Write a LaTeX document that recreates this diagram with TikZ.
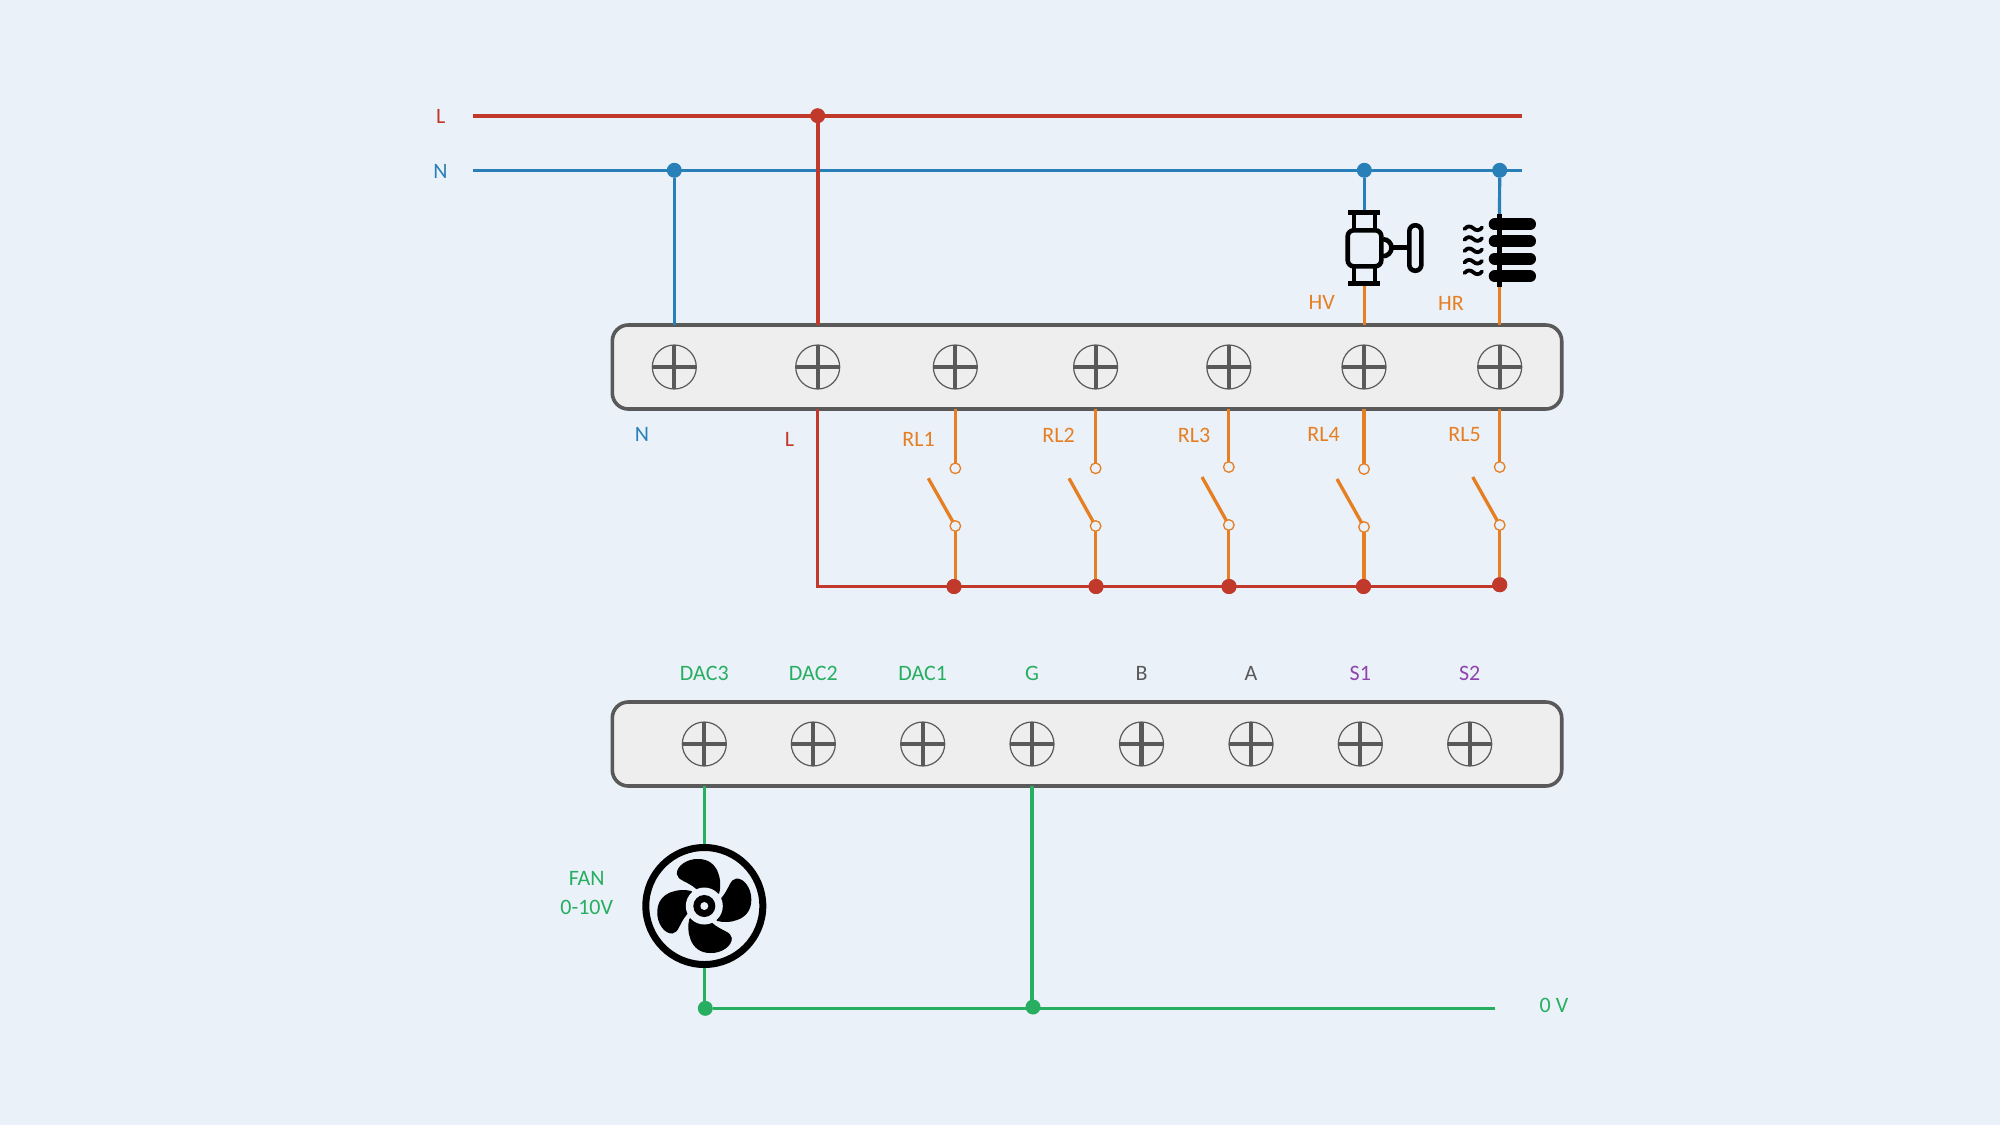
\documentclass[tikz,border=0pt]{standalone}
\usepackage{fontspec}
\setmainfont{Carlito}
\definecolor{bgc}{HTML}{EAF1F9}
\definecolor{redw}{HTML}{C0392B}
\definecolor{bluew}{HTML}{2980B9}
\definecolor{orangew}{HTML}{E67E22}
\definecolor{greenw}{HTML}{27AE60}
\definecolor{purplew}{HTML}{8E44AD}
\definecolor{greyb}{HTML}{595959}
\definecolor{boxf}{HTML}{EEEEEE}
\tikzset{
  terminal/.style={draw=greyb,fill=boxf,line width=1.8pt,rounded corners=8pt,minimum width=474.7pt,minimum height=42pt,inner sep=0,outer sep=0},
  screw/.style={circle,draw=greyb,line width=.6pt,minimum size=22pt,inner sep=0,outer sep=0,
    path picture={\draw[greyb,line width=2.1pt] (path picture bounding box.west) -- (path picture bounding box.east);
                  \draw[greyb,line width=2.1pt] (path picture bounding box.north) -- (path picture bounding box.south);}},
  jdot/.style={circle,inner sep=0,outer sep=0,minimum size=7.5pt,fill=#1},
  contact/.style={circle,draw=orangew,fill=bgc,line width=.65pt,inner sep=0,outer sep=0,minimum size=5.3pt},
  lbl/.style={text=#1,font=\fontsize{11}{13.2}\selectfont,inner sep=0,align=center,yshift=-.4pt},
  wireL/.style={redw,line width=2.1pt},
  wireB/.style={bluew,line width=1.6pt},
  wireLb/.style={redw,line width=1.65pt},
  wireO/.style={orangew,line width=1.65pt},
  wireG/.style={greenw,line width=1.65pt},
  icon/.style={black,line width=2.3pt},
}
\begin{document}
\begin{tikzpicture}[x=.5pt,y=-.5pt]
\useasboundingbox (0,0) rectangle (2000,1125);
\fill[bgc] (0,0) rectangle (2000,1125);

% terminal blocks
\node[terminal] (T1) at (1087,367) {};
\node[terminal] (T2) at (1087,744) {};

% upper screws
\node[screw] (N1) at (674.3,367) {};
\node[screw] (L1) at (817.7,367) {};
\foreach \n/\x in {R1/955.3,R2/1095.6,R3/1228.8,R4/1364,R5/1499.7}{
  \node[screw] (\n) at (\x,367) {};
}
% lower screws
\foreach \n/\x in {D3/704.3,D2/813.3,D1/922.7,G/1032,B/1141.5,A/1251,S1/1360.3,S2/1469.7}{
  \node[screw] (\n) at (\x,744) {};
}

% free ends and junctions
\coordinate (Ls) at (473,115.7);
\coordinate (Le) at (1522,115.7);
\coordinate (Ns) at (473,170.3);
\coordinate (Ne) at (1522,170.3);
\coordinate (Bs) at (816,586.5);
\coordinate (Ge) at (1495,1008);

% main L / N
\draw[wireL] (Ls) -- (Le);
\draw[wireB] (Ns) -- (Ne);
\node[jdot=redw] (jL) at (817.7,115.7) {};
\node[jdot=bluew] (jN) at (674.3,170.3) {};
\node[jdot=bluew] (jV) at (1364.3,170.3) {};
\node[jdot=bluew] (jH) at (1499.7,170.3) {};

\draw[wireB] (jN) -- (jN |- T1.north);
\draw[wireL] (jL) -- (jL |- T1.north);

% valve
\coordinate (vT) at (1364.3,210);
\coordinate (vB) at (1364.3,285);
\draw[wireB] (jV) -- (vT);
\draw[wireO] (vB) -- (vB |- T1.north);
\begin{scope}[icon]
  \draw[line width=2.4pt] (1348.3,212.3) -- (1380,212.3);
  \draw[line width=2.4pt] (1348.3,283.3) -- (1380,283.3);
  \draw (1354,212) -- (1354,230) (1375,212) -- (1375,230);
  \draw (1354,266) -- (1354,283) (1375,266) -- (1375,283);
  \draw[rounded corners=3pt] (1347.7,230.3) rectangle (1381.3,266.3);
  \draw (1383,239.2) arc[start angle=-90,end angle=90,radius=8.5];
  \draw (1392,247.7) -- (1409,247.7);
  \draw[rounded corners=2.9pt] (1409.3,225.3) rectangle (1421.3,270.7);
\end{scope}

% heater
\coordinate (hT) at (1499.5,214);
\coordinate (hB) at (1499.5,287);
\draw[wireB] (jH) -- (hT);
\draw[wireO] (hB) -- (hB |- T1.north);
\draw[black,line width=2.2pt] (hT) -- (hB);
\foreach \y in {224.3,241.3,258.7,276.3}{
  \draw[black,line width=6pt,line cap=round] (1494.7,\y) -- (1530,\y);
}
\foreach \y in {228.3,239,250.3,261.7,272.3}{
  \draw[black,line width=1.9pt,line cap=round] (1464.5,\y+.8)
     .. controls (1467,\y-2.6) and (1470.5,\y-2.6) .. (1473.3,\y)
     .. controls (1476,\y+2.6) and (1479.5,\y+2.6) .. (1482,\y-.8);
}

% relay bus
\node[jdot=redw] (b1) at (954,586.5) {};
\node[jdot=redw] (b2) at (1096,586.5) {};
\node[jdot=redw] (b3) at (1229,586.5) {};
\node[jdot=redw] (b4) at (1363.5,586.5) {};
\node[jdot=redw] (b5) at (1499.7,584.7) {};

% relay switches
\foreach \n/\y/\z/\lx/\ly in {1/468.3/526/928.3/478.3,2/468.3/526/1069/478.3,3/467/525/1202/477,4/469/527/1337/479,5/467/525/1472.7/477}{
  \node[contact] (ct\n) at (R\n |- 0,\y) {};
  \node[contact] (cb\n) at (R\n |- 0,\z) {};
  \coordinate (lv\n) at (\lx,\ly);
  \draw[wireO] (R\n |- T1.south) -- (ct\n);
  \draw[wireO] (lv\n) -- (cb\n);
  \draw[wireO] (cb\n) -- (R\n |- b\n.north);
}
\draw[wireLb] (L1 |- T1.south) -- (L1 |- Bs);
\draw[wireLb] (Bs) -- (b5 |- Bs);
\foreach \n in {1,2,3,4,5}{
  \node[jdot=redw] at (b\n) {};
}

% fan
\node[circle,draw=black,fill=bgc,line width=3.5pt,minimum size=117pt/2,inner sep=0,outer sep=1.75pt] (fan) at (704.3,906) {};
\foreach \a in {0,90,180,270}{
  \fill[black,rotate around={\a:(fan.center)}]
    (719.3,893) .. controls (722.3,882) and (719.3,859) .. (698.3,859)
    .. controls (687.3,858.5) and (676.3,866) .. (676.8,874)
    .. controls (677.3,880.5) and (687.3,881) .. (696.3,889) -- (704.3,906) -- cycle;
}
\fill[bgc] (fan.center) circle[radius=18.5];
\fill[black] (fan.center) circle[radius=11];
\fill[bgc] (fan.center) circle[radius=4];

% green wiring
\node[jdot=greenw] (g1) at (705.3,1008.3) {};
\node[jdot=greenw] (g2) at (1033,1007) {};
\draw[wireG] (fan.north |- T2.south) -- (fan.north);
\draw[wireG] (fan.south) -- (fan.south |- g1.north);
\draw[wireG] (G |- T2.south) -- (G |- g2.north);
\draw[wireG] (g1) -- (g1 -| Ge);

% labels
\node[lbl=redw] (tL) at (440.7,116) {L};
\node[lbl=bluew] (tN) at (440.5,171) {N};
\node[lbl=orangew] (tHV) at (1321.7,302) {HV};
\node[lbl=orangew] (tHR) at (1451,303) {HR};
\node[lbl=bluew] (tN2) at (642,434) {N};
\node[lbl=redw] (tL2) at (789.5,439) {L};
\node[lbl=orangew] (tR1) at (918.5,439) {RL1};
\node[lbl=orangew] (tR2) at (1058.6,435) {RL2};
\node[lbl=orangew] (tR3) at (1194,435) {RL3};
\node[lbl=orangew] (tR4) at (1323.5,434) {RL4};
\node[lbl=orangew] (tR5) at (1464.5,434) {RL5};
\node[lbl=greenw] (tD3) at (D3 |- 0,673) {DAC3};
\node[lbl=greenw] (tD2) at (D2 |- 0,673) {DAC2};
\node[lbl=greenw] (tD1) at (D1 |- 0,673) {DAC1};
\node[lbl=greenw] (tG) at (G |- 0,673) {G};
\node[lbl=greyb] (tB) at (B |- 0,673) {B};
\node[lbl=greyb] (tA) at (A |- 0,673) {A};
\node[lbl=purplew] (tS1) at (S1 |- 0,673) {S1};
\node[lbl=purplew] (tS2) at (S2 |- 0,673) {S2};
\node[lbl=greenw] (tF) at (586.7,892) {FAN\\[1pt]0-10V};
\node[lbl=greenw] (t0) at (1554,1005) {0 V};
\end{tikzpicture}
\end{document}
